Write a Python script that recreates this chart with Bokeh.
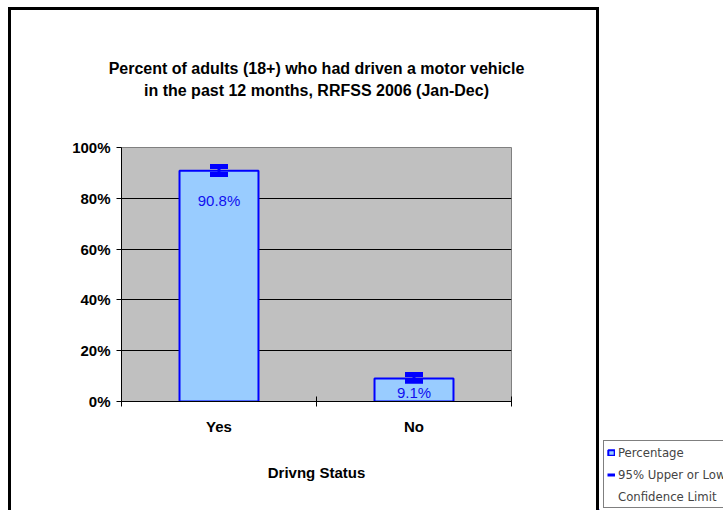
import numpy as np
from bokeh.plotting import figure
from bokeh.layouts import row, column
from bokeh.models import (FixedTicker, Legend, LegendItem, Spacer, Title,
                          ColumnDataSource)
from bokeh.core.properties import value
from bokeh.embed import file_html
from bokeh.resources import INLINE

# ---- data ----
categories = ["Yes", "No"]
percentages = [90.8, 9.1]
ci_lower = [89.4, 8.0]
ci_upper = [92.5, 10.6]
value_labels = ["90.8%", "9.1%"]
y_ticks = [0, 20, 40, 60, 80, 100]
y_tick_labels = ["0%", "20%", "40%", "60%", "80%", "100%"]
title_lines = ["Percent of adults (18+) who had driven a motor vehicle",
               "in the past 12 months, RRFSS 2006 (Jan-Dec)"]
x_axis_title = "Drivng Status"
legend_labels = ["Percentage", "95% Upper or Lower", "Confidence Limit"]

FONT = "Liberation Sans"
NARROW = "DejaVu Sans Condensed, Liberation Sans, sans-serif"
BLUE = "#0000FF"
BAR_FILL = "#99CCFF"

# chart canvas (inside a 3px black frame)
W, H = 585, 500
FL, FR, FT, FB = 110, 500, 137, 391   # plot-area position in canvas px

n = len(categories)
xpos = np.arange(n) + 0.5
vals = np.array(percentages)
label_y = np.where(vals > 20, vals - 11.7, vals * 0.39)

src = ColumnDataSource(dict(x=xpos, top=vals, lo=ci_lower, hi=ci_upper,
                            ly=label_y, txt=value_labels))

p = figure(width=W, height=H, output_backend="svg", toolbar_location=None,
           x_range=(0, n), y_range=(0, 100),
           min_border_left=FL, min_border_right=W - FR,
           min_border_top=FT, min_border_bottom=H - FB)

p.background_fill_color = "#C0C0C0"
p.border_fill_color = "white"
p.outline_line_color = "#808080"
p.outline_line_width = 1

# two-line title: the extra titles stack outward from the plot area
def title_props(t, standoff):
    t.align = "center"
    t.text_font = FONT
    t.text_font_size = "16px"
    t.text_font_style = "bold"
    t.text_color = "black"
    t.standoff = standoff
    return t

p.add_layout(title_props(Title(text=" "), 28), "above")          # gap
p.add_layout(title_props(Title(text=title_lines[1]), 3), "above")
p.title.text = title_lines[0]
title_props(p.title, 3)

# bars
bars = p.vbar(x="x", top="top", width=0.405, bottom=0, source=src,
              fill_color=BAR_FILL, line_color=BLUE, line_width=2)

# error bars (95% CI)
p.segment(x0="x", y0="lo", x1="x", y1="hi", source=src,
          line_color=BLUE, line_width=3)
p.scatter(x="x", y="hi", source=src, marker="dash", size=18,
          line_color=BLUE, line_width=5)
p.scatter(x="x", y="lo", source=src, marker="dash", size=18,
          line_color=BLUE, line_width=5)

# value labels
p.text(x="x", y="ly", text="txt", source=src, text_align="center",
       text_baseline="middle", text_font=value(FONT), text_font_size="15px",
       text_color="#1010F0")

# y axis
yax = p.yaxis[0]
yax.ticker = FixedTicker(ticks=y_ticks)
yax.major_label_overrides = {t: l for t, l in zip(y_ticks, y_tick_labels)}
yax.major_label_text_font = FONT
yax.major_label_text_font_size = "15px"
yax.major_label_text_font_style = "bold"
yax.major_label_text_color = "black"
yax.major_tick_in = 0
yax.major_tick_out = 5
yax.minor_tick_line_color = None
yax.major_label_standoff = 6
yax.axis_line_color = "black"
yax.major_tick_line_color = "black"

# x axis
xax = p.xaxis[0]
xax.ticker = FixedTicker(ticks=list(xpos), minor_ticks=list(range(n + 1)))
xax.major_label_overrides = {float(x): c for x, c in zip(xpos, categories)}
xax.major_label_text_font = FONT
xax.major_label_text_font_size = "15px"
xax.major_label_text_font_style = "bold"
xax.major_label_text_color = "black"
xax.major_tick_line_color = None
xax.major_tick_in = 0
xax.major_tick_out = 0
xax.minor_tick_in = 5
xax.minor_tick_out = 5
xax.minor_tick_line_color = "black"
xax.major_label_standoff = 11
xax.axis_line_color = "black"
xax.axis_label = x_axis_title
xax.axis_label_text_font = FONT
xax.axis_label_text_font_size = "15px"
xax.axis_label_text_font_style = "bold"
xax.axis_label_text_color = "black"
xax.axis_label_standoff = 26

p.xgrid.grid_line_color = None
p.ygrid.ticker = FixedTicker(ticks=y_ticks)
p.ygrid.grid_line_color = "black"
p.ygrid.grid_line_width = 1

# chart area with its black frame
framed = column(p, styles={"border-top": "3px solid black",
                           "border-left": "3px solid black",
                           "border-right": "3px solid black"})

# legend panel to the right of the chart area; its renderers use the same
# data, which lies outside this panel's ranges (only the legend shows)
LW, LH = 124, 510
pl = figure(width=LW, height=LH, output_backend="svg", toolbar_location=None,
            x_range=(10, 11), y_range=(1000, 1001),
            x_axis_type=None, y_axis_type=None,
            min_border=0, outline_line_color=None)
pl.background_fill_color = "white"
pl.border_fill_color = "white"
leg_bar = pl.vbar(x="x", top="top", width=0.405, bottom=0, source=src,
                  fill_color=BAR_FILL, line_color=BLUE, line_width=2)
leg_ci = pl.segment(x0="x", y0="lo", x1="x", y1="hi", source=src,
                    line_color=BLUE, line_width=3)
leg_ci2 = pl.segment(x0="x", y0="lo", x1="x", y1="hi", source=src,
                     line_color=BLUE, line_alpha=0, line_width=3)

legend = Legend(items=[LegendItem(label=legend_labels[0], renderers=[leg_bar]),
                       LegendItem(label=legend_labels[1], renderers=[leg_ci]),
                       LegendItem(label=legend_labels[2], renderers=[leg_ci2])],
                location=(4, 2),
                border_line_color="black", border_line_width=1,
                background_fill_color="white", background_fill_alpha=1,
                label_text_font=NARROW, label_text_font_size="13px",
                label_height=16, label_width=10,
                glyph_width=8, glyph_height=7, label_standoff=3,
                padding=3, spacing=6, margin=0)
pl.add_layout(legend, "center")

layout = row(Spacer(width=8), column(Spacer(height=7), framed), pl)

open("out.html", "w").write(file_html(layout, INLINE))
